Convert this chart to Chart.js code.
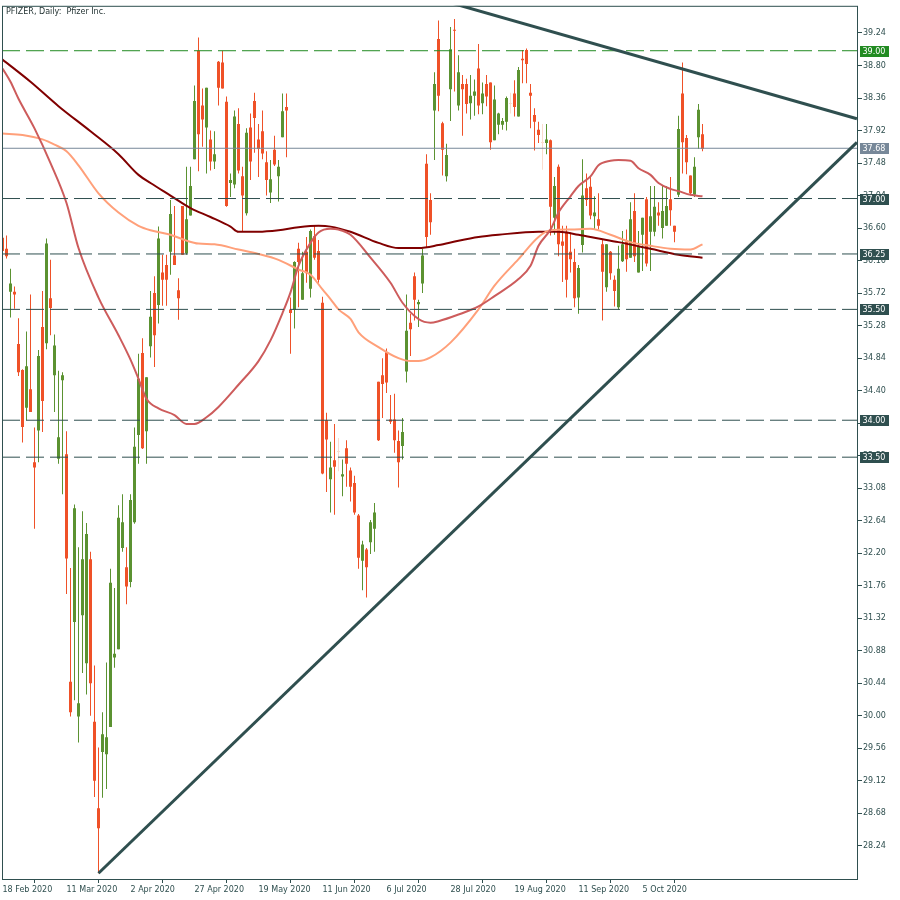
<!DOCTYPE html>
<html>
<head>
<meta charset="utf-8">
<title>PFIZER, Daily</title>
<script src="https://cdn.jsdelivr.net/npm/chart.js@4.4.1/dist/chart.umd.min.js"></script>
<style>
  html, body { margin: 0; padding: 0; background: #ffffff; }
  #wrap { width: 900px; height: 900px; }
</style>
</head>
<body>
<div id="wrap"><canvas id="pfeChart" width="900" height="900"></canvas></div>
<script>
// Titulo y ejes
const chartTitle = 'PFIZER, Daily:  Pfizer Inc.';
const xTickIdx = [0, 16, 32, 48, 64, 80, 96, 112, 128, 144, 160];
const xTickLabels = ['18 Feb 2020', '11 Mar 2020', '2 Apr 2020', '27 Apr 2020', '19 May 2020', '11 Jun 2020',
  '6 Jul 2020', '28 Jul 2020', '19 Aug 2020', '11 Sep 2020', '5 Oct 2020'];
const yTickVals = [39.24, 38.80, 38.36, 37.92, 37.48, 37.04, 36.60, 36.16, 35.72, 35.28, 34.84, 34.40, 33.96,
  33.52, 33.08, 32.64, 32.20, 31.76, 31.32, 30.88, 30.44, 30.00, 29.56, 29.12, 28.68, 28.24];

// Velas diarias (una por sesion, desde el 18 Feb 2020)
const opens = [36.47,36.32,35.74,35.74,35.03,34.68,34.17,34.42,33.43,33.86,
  35.26,35.04,35.65,34.61,33.48,34.54,33.54,30.46,31.27,29.99,
  31.36,30.71,32.12,29.92,28.75,29.51,29.48,29.85,30.79,30.90,
  32.27,32.01,31.81,32.62,33.80,34.91,33.85,35.00,35.72,35.56,
  36.00,36.10,36.28,36.23,35.76,36.90,36.26,36.77,37.53,39.00,
  38.26,37.96,37.80,37.50,38.85,38.84,38.31,37.21,37.19,38.01,
  37.30,36.80,37.96,38.32,37.80,37.91,37.49,37.08,37.66,37.30,
  37.83,38.24,35.50,35.49,36.32,35.63,36.28,35.78,36.49,36.29,
  35.59,34.00,33.20,33.46,33.57,33.24,33.62,33.32,33.15,32.71,
  32.10,32.25,32.35,32.53,34.52,34.61,34.92,34.01,34.01,33.72,
  33.65,34.66,35.32,35.95,35.57,35.85,37.47,36.98,38.19,39.16,
  38.02,37.30,38.48,39.28,38.26,38.55,38.55,38.29,38.39,38.76,
  38.29,38.55,38.57,37.79,38.00,38.00,38.04,38.28,38.42,38.11,
  38.89,39.01,38.43,38.13,37.93,37.75,37.75,37.79,36.74,37.43,
  36.42,36.55,36.28,36.14,35.66,36.37,37.14,37.16,36.76,36.72,
  36.38,35.80,36.28,35.90,35.53,36.15,36.42,36.20,36.83,36.00,
  36.51,36.99,36.55,36.55,36.81,36.60,36.63,36.99,36.63,37.05,
  38.42,37.82,37.31,37.05,37.83,37.87];
const highs = [36.50,36.50,36.05,35.81,35.38,34.69,35.20,35.70,33.90,34.95,
  35.75,36.46,36.17,35.16,34.67,34.65,33.85,32.00,32.86,32.28,
  32.77,32.61,32.22,30.68,29.57,30.05,30.72,31.99,31.73,32.85,
  33.00,32.28,33.00,33.90,34.90,35.11,34.58,35.75,35.95,36.62,
  36.24,36.24,36.98,36.90,35.92,36.90,37.43,37.43,38.53,39.18,
  38.49,38.50,37.92,37.91,38.86,39.00,38.38,37.34,38.19,38.22,
  37.43,37.95,38.15,38.43,38.01,38.19,37.64,37.52,37.85,37.52,
  38.42,38.42,35.66,36.15,36.40,36.28,36.48,36.58,36.63,36.44,
  35.67,34.10,33.71,33.95,33.76,33.47,33.73,33.36,33.25,32.73,
  32.37,32.27,32.65,32.88,34.52,34.84,34.97,34.34,34.36,33.86,
  34.03,35.70,35.44,36.00,35.63,36.32,37.60,37.07,38.71,39.41,
  38.04,37.74,39.32,39.43,38.94,38.67,38.62,38.67,38.61,39.09,
  38.57,38.67,38.57,38.53,38.16,38.09,38.38,38.43,38.60,38.78,
  39.01,39.03,38.55,38.22,38.04,38.01,38.01,37.80,37.29,37.46,
  36.63,36.63,36.54,36.32,36.10,37.53,37.34,37.29,37.03,37.07,
  36.45,36.38,36.29,35.96,36.36,36.56,36.58,36.95,37.07,36.56,
  36.74,37.02,37.17,37.17,36.95,37.17,37.17,37.29,36.63,38.12,
  38.84,37.86,37.31,37.56,38.28,38.01];
const lows = [36.27,36.19,35.39,35.51,34.60,33.70,34.00,34.11,32.53,33.43,
  33.84,34.96,35.15,34.11,33.41,33.00,31.65,29.99,30.21,29.64,
  30.58,30.29,30.00,28.90,27.87,28.89,29.01,29.85,30.65,30.90,
  32.22,31.51,31.74,32.60,33.41,33.61,33.41,34.85,34.72,35.31,
  35.55,35.55,35.97,36.10,35.36,36.24,36.24,36.77,37.53,37.37,
  37.70,37.34,37.38,37.40,38.26,38.49,36.89,37.02,37.14,37.34,
  36.55,36.77,37.25,37.62,37.29,37.53,37.04,36.94,37.44,36.96,
  37.83,37.56,34.90,35.24,35.53,35.63,35.86,35.66,36.17,35.86,
  33.27,33.03,32.75,32.72,33.31,32.97,33.10,32.90,32.72,31.99,
  31.70,31.60,32.19,32.22,33.72,34.03,34.37,33.95,33.56,33.09,
  33.47,34.51,34.87,35.35,35.26,35.72,36.33,36.51,37.52,38.18,
  37.31,37.23,38.05,38.45,38.19,37.85,38.15,38.07,38.12,38.14,
  38.14,38.25,37.66,37.79,37.87,37.93,37.92,38.15,38.11,38.11,
  38.56,38.56,37.95,37.65,37.75,37.39,37.60,36.50,36.51,36.22,
  35.87,35.66,36.00,35.53,35.44,36.27,36.90,36.72,36.58,36.58,
  35.35,35.74,35.90,35.54,35.50,36.14,36.01,36.20,36.14,36.00,
  36.02,36.08,36.02,36.49,36.63,36.46,36.63,36.63,36.41,37.02,
  37.34,37.33,37.04,37.02,37.67,37.64];
const closes = [36.29,36.22,35.85,35.70,34.65,33.91,34.73,34.11,33.36,34.87,
  34.26,36.39,35.52,35.01,33.77,34.61,32.13,30.05,32.81,30.17,
  32.12,32.46,30.44,29.12,28.48,29.75,29.71,31.80,30.84,32.68,
  32.62,31.75,32.92,33.64,34.56,33.62,34.58,35.40,35.15,36.46,
  35.90,35.90,36.79,36.10,35.65,36.24,36.72,37.17,38.32,37.87,
  38.07,38.50,37.50,37.60,38.50,38.49,36.90,37.25,38.11,37.38,
  37.04,37.89,37.50,38.09,37.67,37.61,37.25,37.26,37.46,37.43,
  38.18,38.19,35.45,36.14,36.14,35.99,35.99,36.56,36.20,35.90,
  33.28,33.74,33.36,33.37,33.57,33.27,33.41,33.10,32.75,32.14,
  32.32,32.01,32.62,32.75,33.73,34.49,34.51,33.98,33.73,33.43,
  33.84,35.21,35.23,35.63,35.60,36.23,36.48,36.68,38.55,38.39,
  37.66,37.59,39.02,39.27,38.71,38.48,38.28,38.39,38.45,38.26,
  38.42,38.38,37.76,38.34,38.15,38.05,38.36,38.28,38.24,38.74,
  38.87,38.82,38.39,38.04,37.86,37.75,37.80,36.89,37.17,36.38,
  36.36,35.90,36.18,35.65,36.06,37.04,36.98,36.77,36.81,36.63,
  36.01,36.38,35.99,35.75,36.05,36.38,36.18,36.72,36.22,36.36,
  36.74,36.12,36.76,36.89,36.77,36.83,36.90,36.84,36.55,37.94,
  37.76,37.49,37.07,37.43,38.20,37.67];

// Medias moviles (indice de vela, precio)
const maFastIdx = [0,2,4,8,12,16,19,24,29,32,34,36,39,43,46,48,51,54,59,64,67,70,72,74,77,79,82,84,87,92,
  97,100,104,107,109,114,119,123,129,132,134,137,139,142,144,147,149,152,154,157,159,162,164,167,169,172,175];
const maFast = [38.76,38.58,38.35,37.95,37.48,36.94,36.33,35.66,35.15,34.82,34.56,34.29,34.16,34.07,33.95,33.95,
  34.04,34.18,34.48,34.80,35.08,35.45,35.73,36.09,36.40,36.54,36.59,36.58,36.51,36.20,
  35.86,35.59,35.37,35.32,35.34,35.43,35.54,35.68,35.91,36.09,36.36,36.58,36.81,37.03,37.17,37.30,37.45,
  37.51,37.52,37.51,37.41,37.32,37.21,37.13,37.10,37.05,37.03];
const maMidIdx = [0,5,10,13,16,19,24,29,34,37,42,46,49,53,59,64,69,74,77,80,82,84,87,89,94,99,102,104,107,
  112,119,123,129,134,137,142,147,152,157,162,167,172,175];
const maMid = [37.88,37.86,37.80,37.73,37.64,37.45,37.07,36.81,36.63,36.57,36.51,36.43,36.39,36.38,36.31,36.25,
  36.17,36.04,35.97,35.77,35.64,35.50,35.37,35.19,34.99,34.84,34.80,34.80,34.85,
  35.05,35.50,35.82,36.18,36.48,36.57,36.58,36.59,36.51,36.41,36.36,36.32,36.31,36.38];
const maSlowIdx = [0,7,14,22,29,34,37,42,47,52,57,59,64,69,74,79,82,87,94,99,104,109,114,119,124,134,139,
  144,149,154,162,169,175];
const maSlow = [38.88,38.58,38.25,37.91,37.60,37.32,37.21,37.04,36.87,36.75,36.62,36.55,36.55,36.57,36.61,36.63,
  36.62,36.55,36.40,36.33,36.33,36.37,36.43,36.48,36.51,36.55,36.55,36.51,36.46,36.41,36.32,36.24,36.20];

// Lineas de tendencia: [indice, precio] de cada extremo
const supportLine = [[24, 27.87], [213.6, 37.76]];
const resistLine = [[110, 39.68], [213.6, 38.08]];

// Niveles horizontales y precio actual
const levels = [39.00, 37.00, 36.25, 35.50, 34.00, 33.50];
const lastPrice = 37.68;

const X_MIN = -0.125, X_MAX = 213.875;
const Y_MIN = 27.792, Y_MAX = 39.608;
const FONT = '"DejaVu Sans", Verdana, sans-serif';
const INK = '#2f4f4f';
const UP = '#5b9231', DOWN = '#ef5128', FLAT = '#f9dccd';
const LEVEL_GREEN = '#228b22', BID_GREY = '#778899';

function candleColor(k) {
  if (closes[k] > opens[k]) return UP;
  if (closes[k] < opens[k]) return DOWN;
  return FLAT;
}
const candleColors = opens.map((o, k) => candleColor(k));

const wickData = opens.map((o, k) => ({ x: k, y: [lows[k], highs[k]] }));
const bodyData = opens.map((o, k) => ({ x: k, y: [opens[k], closes[k]] }));

function toPoints(idx, vals) {
  return idx.map((x, k) => ({ x: x, y: vals[k] }));
}

const levelSets = levels.map((lv, k) => ({
  type: 'line',
  data: [{ x: X_MIN, y: lv }, { x: X_MAX, y: lv }],
  borderColor: k === 0 ? LEVEL_GREEN : INK,
  borderWidth: 1,
  borderDash: [18, 6],
  pointRadius: 0,
  order: 1
}));

const framePlugin = {
  id: 'framePlugin',
  afterDraw(chart) {
    const ctx = chart.ctx;
    const ca = chart.chartArea;
    const ys = chart.scales.y;
    ctx.save();
    // marco
    ctx.strokeStyle = INK;
    ctx.lineWidth = 1;
    ctx.strokeRect(ca.left + 0.5, ca.top + 0.5, ca.right - ca.left - 1, ca.bottom - ca.top);
    // titulo
    ctx.font = '8px ' + FONT;
    ctx.fillStyle = '#1f2f2f';
    ctx.textBaseline = 'alphabetic';
    ctx.textAlign = 'left';
    ctx.fillText(chartTitle, 6, 14);
    // etiquetas de niveles
    const tags = levels.map((lv, k) => ({ v: lv, bg: k === 0 ? LEVEL_GREEN : INK }));
    tags.push({ v: lastPrice, bg: BID_GREY });
    ctx.textBaseline = 'middle';
    tags.forEach(t => {
      const y = Math.round(ys.getPixelForValue(t.v));
      ctx.fillStyle = t.bg;
      ctx.fillRect(860, y - 5, 29, 11);
      ctx.fillStyle = '#ffffff';
      ctx.fillText(t.v.toFixed(2), 862.5, y + 0.5);
    });
    ctx.restore();
  }
};

const ctxPfe = document.getElementById('pfeChart').getContext('2d');

const pfeChart = new Chart(ctxPfe, {
  type: 'bar',
  data: {
    datasets: [
      {
        type: 'line', data: supportLine.map(p => ({ x: p[0], y: p[1] })),
        borderColor: INK, borderWidth: 3, pointRadius: 0, order: 0
      },
      {
        type: 'line', data: resistLine.map(p => ({ x: p[0], y: p[1] })),
        borderColor: INK, borderWidth: 3, pointRadius: 0, order: 0
      },
      ...levelSets,
      {
        type: 'line', data: [{ x: X_MIN, y: lastPrice }, { x: X_MAX, y: lastPrice }],
        borderColor: BID_GREY, borderWidth: 1, pointRadius: 0, order: 1
      },
      {
        type: 'line', data: toPoints(maFastIdx, maFast),
        borderColor: '#cd5c5c', borderWidth: 2, pointRadius: 0,
        cubicInterpolationMode: 'monotone', order: 2
      },
      {
        type: 'line', data: toPoints(maMidIdx, maMid),
        borderColor: '#ffa07a', borderWidth: 2, pointRadius: 0,
        cubicInterpolationMode: 'monotone', order: 2
      },
      {
        type: 'line', data: toPoints(maSlowIdx, maSlow),
        borderColor: '#800000', borderWidth: 2, pointRadius: 0,
        cubicInterpolationMode: 'monotone', order: 2
      },
      {
        data: bodyData, backgroundColor: candleColors, borderWidth: 0,
        barThickness: 3, minBarLength: 1, grouped: false, inflateAmount: 0, order: 3
      },
      {
        data: wickData, backgroundColor: candleColors, borderWidth: 0,
        barThickness: 1, grouped: false, inflateAmount: 0, order: 4
      }
    ]
  },
  options: {
    responsive: false,
    animation: false,
    devicePixelRatio: 1,
    layout: { padding: { left: 2, top: 2, right: 0, bottom: 0 } },
    plugins: {
      legend: { display: false },
      tooltip: { enabled: false }
    },
    scales: {
      x: {
        type: 'linear',
        min: X_MIN,
        max: X_MAX,
        offset: false,
        border: { display: false },
        grid: { drawOnChartArea: false, drawTicks: true, tickLength: 4, tickColor: INK, color: INK },
        afterBuildTicks: s => { s.ticks = xTickIdx.map(v => ({ value: v })); },
        afterFit: s => { s.height = 21; },
        ticks: {
          autoSkip: false,
          maxRotation: 0,
          align: 'start',
          padding: 2,
          color: INK,
          font: { family: FONT, size: 8 },
          callback: v => xTickLabels[xTickIdx.indexOf(v)]
        }
      },
      y: {
        position: 'right',
        min: Y_MIN,
        max: Y_MAX,
        border: { display: false },
        grid: { drawOnChartArea: false, drawTicks: true, tickLength: 4, tickColor: INK, color: INK },
        afterBuildTicks: s => { s.ticks = yTickVals.map(v => ({ value: v })); },
        afterFit: s => { s.width = 42; },
        ticks: {
          padding: 1,
          color: INK,
          font: { family: FONT, size: 8 },
          callback: v => Number(v).toFixed(2)
        }
      }
    }
  },
  plugins: [framePlugin]
});
</script>
</body>
</html>
